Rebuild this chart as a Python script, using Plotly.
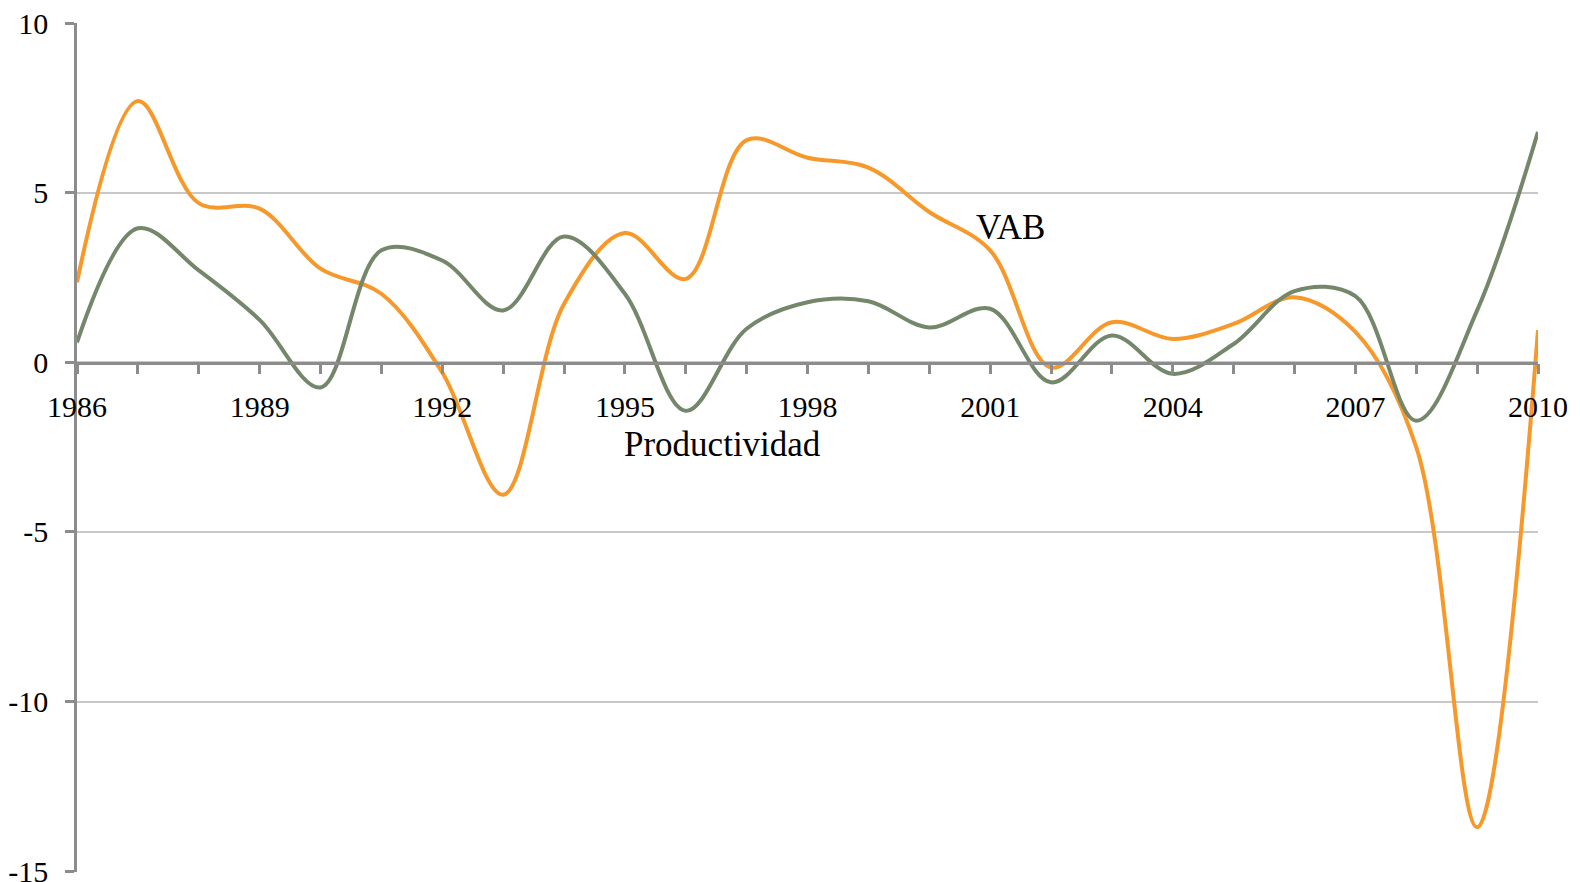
import plotly.graph_objects as go

years = list(range(1986, 2011))
vab = [2.36, 7.7, 4.69, 4.53, 2.76, 2.02, -0.3, -3.9, 1.72, 3.81, 2.46, 6.55, 6.03,
       5.74, 4.43, 3.3, -0.15, 1.18, 0.69, 1.13, 1.92, 0.9, -2.5, -13.7, 0.95]
productividad = [0.59, 3.95, 2.71, 1.25, -0.74, 3.3, 3.0, 1.53, 3.71, 2.02, -1.43, 0.99, 1.77,
                 1.8, 1.03, 1.58, -0.59, 0.79, -0.34, 0.54, 2.1, 1.95, -1.72, 1.53, 6.79]
x_ticks = [1986, 1989, 1992, 1995, 1998, 2001, 2004, 2007, 2010]
y_ticks = [-15, -10, -5, 0, 5, 10]

FONT = "Liberation Serif"
ORANGE = "#F7982A"
GREEN = "#74876B"
AXIS = "#8C8C8C"
GRID = "#C8C8C8"

fig = go.Figure()
fig.add_trace(go.Scatter(x=years, y=vab, mode="lines", name="VAB",
                         line=dict(color=ORANGE, width=4, shape="spline", smoothing=1.0)))
fig.add_trace(go.Scatter(x=years, y=productividad, mode="lines", name="Productividad",
                         line=dict(color=GREEN, width=4, shape="spline", smoothing=1.0)))

fig.add_annotation(x=2001.33, y=3.98, text="VAB", showarrow=False, xanchor="center",
                   yanchor="middle", font=dict(family=FONT, size=35, color="black"))
fig.add_annotation(x=1996.6, y=-2.41, text="Productividad", showarrow=False, xanchor="center",
                   yanchor="middle", font=dict(family=FONT, size=35, color="black"))

fig.update_layout(
    width=1580, height=882,
    margin=dict(l=69, r=50, t=15, b=18),
    paper_bgcolor="white", plot_bgcolor="white",
    showlegend=False,
    xaxis=dict(range=[1986, 2010], tickvals=x_ticks, ticktext=[str(v) for v in x_ticks],
               anchor="free", position=0.6, showline=True, linecolor=AXIS, linewidth=2.5,
               ticks="outside", ticklen=10, tickwidth=2.5, tickcolor=AXIS,
               minor=dict(dtick=1, tick0=1986, ticks="outside", ticklen=10, tickwidth=2.5,
                          tickcolor=AXIS, showgrid=False),
               showgrid=False, zeroline=False, ticklabelstandoff=7, automargin=False,
               ticklabeloverflow="allow",
               tickfont=dict(family=FONT, size=30, color="black")),
    yaxis=dict(range=[-15.02, 10.0], tickvals=y_ticks, ticktext=[str(v) for v in y_ticks],
               showline=True, linecolor=AXIS, linewidth=2.5,
               ticks="outside", ticklen=9, tickwidth=2.5, tickcolor=AXIS,
               showgrid=True, gridcolor=GRID, gridwidth=2, zeroline=False,
               ticklabelstandoff=11, automargin=False, ticklabeloverflow="allow",
               tickfont=dict(family=FONT, size=30, color="black")),
)

fig.write_html("out.html")
